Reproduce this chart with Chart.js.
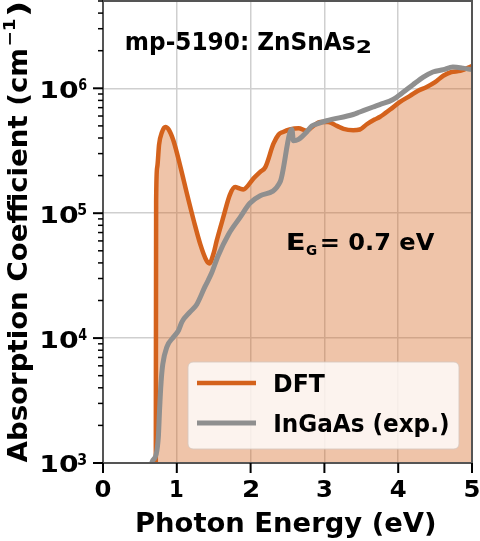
<!DOCTYPE html>
<html><head><meta charset="utf-8">
<script src="https://cdn.jsdelivr.net/npm/chart.js@4"></script>
<style>html,body{margin:0;padding:0;background:#fff}canvas{display:block}</style>
</head><body>
<canvas id="c" width="480" height="541"></canvas>
<script>
// ---- data ----
const dftEnergy = [0.715,0.72,0.735,0.76,0.80,0.845,0.89,0.955,1.05,1.14,1.23,1.32,1.40,1.44,1.50,1.54,1.63,1.72,1.79,1.85,1.90,2.04,2.13,2.20,2.31,2.38,2.44,2.53,2.65,2.76,2.85,2.94,3.05,3.17,3.26,3.39,3.48,3.57,3.68,3.75,3.89,4.02,4.16,4.27,4.38,4.50,4.61,4.72,4.84,4.97,5.0];
const dftAlpha = [500,1.26e5,2.34e5,3.55e5,4.47e5,4.9e5,4.68e5,3.8e5,2.34e5,1.41e5,8.7e4,5.6e4,4.2e4,3.96e4,4.8e4,6.0e4,9.3e4,1.41e5,1.62e5,1.58e5,1.55e5,1.9e5,2.14e5,2.34e5,3.6e5,4.27e5,4.47e5,4.68e5,4.79e5,4.57e5,5.0e5,5.37e5,5.37e5,5.0e5,4.73e5,4.62e5,4.68e5,5.13e5,5.62e5,5.89e5,6.76e5,7.76e5,8.7e5,9.55e5,1.02e6,1.12e6,1.26e6,1.35e6,1.38e6,1.48e6,1.51e6];
const expEnergy = [0.62,0.663,0.72,0.75,0.766,0.785,0.81,0.866,0.955,1.023,1.07,1.18,1.27,1.38,1.47,1.56,1.70,1.86,1.99,2.13,2.40,2.53,2.56,2.58,2.65,2.76,2.83,2.90,3.03,3.39,3.48,3.66,3.75,3.93,4.07,4.20,4.34,4.47,4.61,4.74,4.88,4.99];
const expAlpha = [700,1.01e3,1.17e3,1.62e3,2.63e3,4.27e3,6.17e3,8.5e3,1.02e4,1.15e4,1.35e4,1.62e4,1.86e4,2.57e4,3.3e4,4.57e4,6.76e4,9.3e4,1.2e5,1.38e5,1.78e5,4.37e5,4.68e5,3.8e5,3.9e5,4.47e5,5.0e5,5.19e5,5.5e5,6.17e5,6.46e5,7.08e5,7.4e5,8.13e5,9.33e5,1.07e6,1.23e6,1.35e6,1.41e6,1.48e6,1.45e6,1.41e6];
const seriesNames = ['DFT','InGaAs (exp.)'];
const xTickValues = [0,1,2,3,4,5];
const xTickLabels = ['0','1','2','3','4','5'];
const yTickValues = [1e3,1e4,1e5,1e6];
const yTickExponents = ['3','4','5','6'];
const titleMain = 'mp-5190: ZnSnAs';
const titleSub = '2';
const gapMain = 'E';
const gapSub = 'G';
const gapRest = '= 0.7 eV';
const xTitle = 'Photon Energy (eV)';
const yTitleMain = 'Absorption Coefficient (cm';
const yTitleSup = '\u22121';
const yTitleEnd = ')';

// ---- styles ----
const ORANGE = '#d4621c';
const FILL = 'rgba(214,100,30,0.38)';
const GRAY = '#8f8f8f';
const FONT = '"DejaVu Sans", sans-serif';

const toPts = (xs, ys) => xs.map((x, i) => ({x, y: ys[i]}));

// draw text so that its ink spans [L, R] horizontally (in current transform)
function inkText(ctx, text, L, R, y, size) {
  ctx.font = 'bold ' + size + 'px ' + FONT;
  ctx.textAlign = 'left';
  ctx.textBaseline = 'alphabetic';
  const m = ctx.measureText(text);
  const ink = m.actualBoundingBoxLeft + m.actualBoundingBoxRight;
  const sx = (R - L) / ink;
  ctx.save();
  ctx.translate(L + m.actualBoundingBoxLeft * sx, y);
  ctx.scale(sx, 1);
  ctx.fillText(text, 0, 0);
  ctx.restore();
}

const decor = {
  id: 'decor',
  afterDraw(chart) {
    const ctx = chart.ctx, a = chart.chartArea;
    const xs = chart.scales.x, ys = chart.scales.y;
    ctx.save();
    // frame
    ctx.strokeStyle = '#555';
    ctx.lineWidth = 2;
    ctx.strokeRect(a.left, a.top, a.right - a.left, a.bottom - a.top);
    ctx.fillStyle = '#000';
    ctx.strokeStyle = '#000';
    // x ticks + labels
    xTickValues.forEach((v, i) => {
      const px = xs.getPixelForValue(v);
      ctx.lineWidth = 2;
      ctx.beginPath(); ctx.moveTo(px, a.bottom); ctx.lineTo(px, a.bottom + 10); ctx.stroke();
      const hw = xTickLabels[i] === '1' ? 6 : 7.4;
      inkText(ctx, xTickLabels[i], px - hw, px + hw, 497.3, 23);
    });
    // y minor ticks
    ctx.lineWidth = 1.5;
    for (let e = 3; e <= 6; e++) {
      for (let m = 2; m <= 9; m++) {
        const v = m * Math.pow(10, e);
        if (v > ys.max) break;
        const py = ys.getPixelForValue(v);
        ctx.beginPath(); ctx.moveTo(a.left - 5, py); ctx.lineTo(a.left, py); ctx.stroke();
      }
    }
    // y major ticks + labels
    yTickValues.forEach((v, i) => {
      const py = ys.getPixelForValue(v);
      ctx.lineWidth = 2;
      ctx.beginPath(); ctx.moveTo(a.left - 10, py); ctx.lineTo(a.left, py); ctx.stroke();
      inkText(ctx, '10', 41.7, 77.3, py + 9.4, 23);
      inkText(ctx, yTickExponents[i], 78.2, 86.7, py + 1.7, 15);
    });
    // x title
    inkText(ctx, xTitle, 137, 435, 531.7, 27.4);
    // y title (rotated)
    ctx.save();
    ctx.translate(27, 462.5);
    ctx.rotate(-Math.PI / 2);
    inkText(ctx, yTitleMain, 0, 413, 0, 27.4);
    inkText(ctx, yTitleSup, 417, 444, -12, 16);
    inkText(ctx, yTitleEnd, 448, 460, 0, 27.4);
    ctx.restore();
    // title annotation
    inkText(ctx, titleMain, 126.7, 355, 50, 24.7);
    inkText(ctx, titleSub, 357, 370, 53.3, 18);
    // gap annotation
    inkText(ctx, gapMain, 288.3, 304.3, 250, 23.7);
    inkText(ctx, gapSub, 306, 316.7, 255, 14);
    inkText(ctx, gapRest, 321.7, 435, 250, 23.7);
    // legend
    const lx = 188, ly = 362, lw = 271, lh = 87;
    ctx.fillStyle = 'rgba(255,255,255,0.8)';
    ctx.strokeStyle = 'rgba(215,200,190,0.9)';
    ctx.lineWidth = 1;
    ctx.beginPath();
    ctx.roundRect(lx, ly, lw, lh, 5);
    ctx.fill(); ctx.stroke();
    const colors = [ORANGE, GRAY];
    const widths = [4.5, 5];
    const rowsY = [383, 423];
    const textR = [325, 448.3];
    seriesNames.forEach((n, i) => {
      ctx.strokeStyle = colors[i];
      ctx.lineWidth = widths[i];
      ctx.lineCap = 'butt';
      ctx.beginPath(); ctx.moveTo(197, rowsY[i]); ctx.lineTo(256, rowsY[i]); ctx.stroke();
      ctx.fillStyle = '#000';
      inkText(ctx, n, 275, textR[i], rowsY[i] + 9, 24.7);
    });
    ctx.restore();
  }
};

new Chart(document.getElementById('c'), {
  type: 'line',
  data: {
    datasets: [
      {
        label: seriesNames[0],
        data: toPts(dftEnergy, dftAlpha),
        borderColor: ORANGE,
        backgroundColor: FILL,
        borderWidth: 4.5,
        fill: 'start',
        pointRadius: 0,
        cubicInterpolationMode: 'monotone',
        order: 2
      },
      {
        label: seriesNames[1],
        data: toPts(expEnergy, expAlpha),
        borderColor: GRAY,
        borderWidth: 5,
        fill: false,
        pointRadius: 0,
        cubicInterpolationMode: 'monotone',
        order: 1
      }
    ]
  },
  options: {
    responsive: false,
    devicePixelRatio: 1,
    animation: false,
    layout: {padding: {top: 1, right: 8, left: 0, bottom: 0}},
    plugins: {legend: {display: false}, tooltip: {enabled: false}, title: {display: false}},
    scales: {
      x: {
        type: 'linear', min: 0, max: 5,
        afterBuildTicks: s => { s.ticks = xTickValues.map(v => ({value: v})); },
        afterFit: s => { s.height = 78; },
        ticks: {display: false},
        grid: {color: '#cfcfcf', lineWidth: 1.5, drawTicks: false},
        border: {display: false}
      },
      y: {
        type: 'logarithmic', min: 1e3, max: 5e6,
        afterBuildTicks: s => { s.ticks = yTickValues.map(v => ({value: v})); },
        afterFit: s => { s.width = 103; },
        ticks: {display: false},
        grid: {color: '#cfcfcf', lineWidth: 1.5, drawTicks: false},
        border: {display: false}
      }
    }
  },
  plugins: [decor]
});
</script>
</body></html>
